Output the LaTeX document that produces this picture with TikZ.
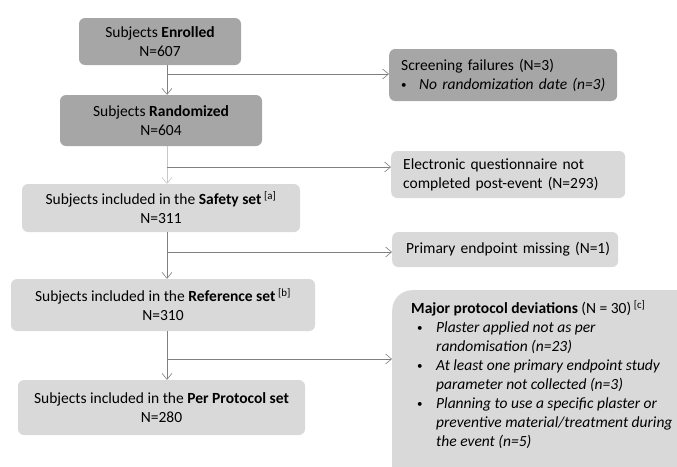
\documentclass[tikz,border=0pt]{standalone}
\usepackage{fontspec}
\setmainfont{Carlito}
\usetikzlibrary{arrows.meta}
\definecolor{boxdark}{HTML}{A6A6A6}
\definecolor{boxlight}{HTML}{D9D9D9}
\definecolor{linedark}{HTML}{7F7F7F}
\definecolor{linelight}{HTML}{C8C8C8}
\newcommand{\smallbul}{\raisebox{1pt}{\fontsize{11}{11}\selectfont\textbullet}}
\begin{document}
\begin{tikzpicture}[x=1pt, y=-1pt, font=\fontsize{15.5}{19}\selectfont, line join=round, >={Straight Barb[length=6pt,width=10pt]},
  darkbox/.style={fill=boxdark, rounded corners=6pt, align=center, inner sep=0pt},
  lightbox/.style={fill=boxlight, rounded corners=6pt, align=center, inner sep=0pt},
  sidebox/.style={rounded corners=6pt, align=left, inner xsep=#1, inner ysep=0pt, anchor=west},
  flow/.style={->, draw=linedark, line width=0.6pt}]
\clip (0,0) rectangle (677,466);
% main column
\node[darkbox, minimum width=162, minimum height=47] (enrol) at (160,41.5) {Subjects \textbf{Enrolled}\\N=607};
\node[darkbox, minimum width=202, minimum height=51] (rand) at (161,120.5) {Subjects \textbf{Randomized}\\N=604};
\node[lightbox, minimum width=278, minimum height=48] (safety) at (161,208) {Subjects included in the \textbf{Safety set}\,\textsuperscript{[a]}\\N=311};
\node[lightbox, minimum width=304, minimum height=52] (ref) at (163,305) {Subjects included in the \textbf{Reference set}\,\textsuperscript{[b]}\\N=310};
\node[lightbox, minimum width=287, minimum height=55] (pp) at (161.5,407.5) {Subjects included in the \textbf{Per Protocol set}\\N=280};
% side boxes
\node[sidebox=12pt, fill=boxdark, text width=204, minimum height=52] (screen) at (389,75) {\mbox{Screening failures (N=3)}\\\mbox{\makebox[18pt][l]{\smallbul}\textit{No randomization date (n=3)}}};
\node[sidebox=12pt, fill=boxlight, text width=210, minimum height=47] (elec) at (391,174.5) {\mbox{Electronic questionnaire not}\\\mbox{completed post-event (N=293)}};
\node[sidebox=14pt, fill=boxlight, text width=198, minimum height=35] (prim) at (392,249.5) {\mbox{Primary endpoint missing (N=1)}};
\node[fill=boxlight, rounded corners=20pt, minimum width=310, minimum height=200, anchor=north west, inner sep=0pt] (major) at (392,290) {};
\node[anchor=north west, align=left, inner sep=0pt] (majortxt) at (411,300) {\textbf{Major protocol deviations} (N = 30)\,\textsuperscript{[c]}\\
  \hspace*{6pt}\makebox[19pt][l]{\smallbul}\textit{Plaster applied not as per}\\
  \hspace*{25pt}\textit{randomisation (n=23)}\\
  \hspace*{6pt}\makebox[19pt][l]{\smallbul}\textit{At least one primary endpoint study}\\
  \hspace*{25pt}\textit{parameter not collected (n=3)}\\
  \hspace*{6pt}\makebox[19pt][l]{\smallbul}\textit{Planning to use a specific plaster or}\\
  \hspace*{25pt}\textit{preventive material/treatment during}\\
  \hspace*{25pt}\textit{the event (n=5)}};
% connectors
\path (167,0) coordinate (spine) (167,74) coordinate (b1) (167,167) coordinate (b2) (167,252) coordinate (b3) (167,359) coordinate (b4);
\draw[flow] (enrol.south -| spine) -- (rand.north -| spine);
\draw[flow, draw=linelight] (rand.south -| spine) -- (safety.north -| spine);
\draw[flow] (safety.south -| spine) -- (ref.north -| spine);
\draw[flow] (ref.south -| spine) -- (pp.north -| spine);
\foreach \b/\t in {b1/screen, b2/elec, b3/prim, b4/major} \draw[flow] (\b) -- (\t.west |- \b);
\end{tikzpicture}
\end{document}
